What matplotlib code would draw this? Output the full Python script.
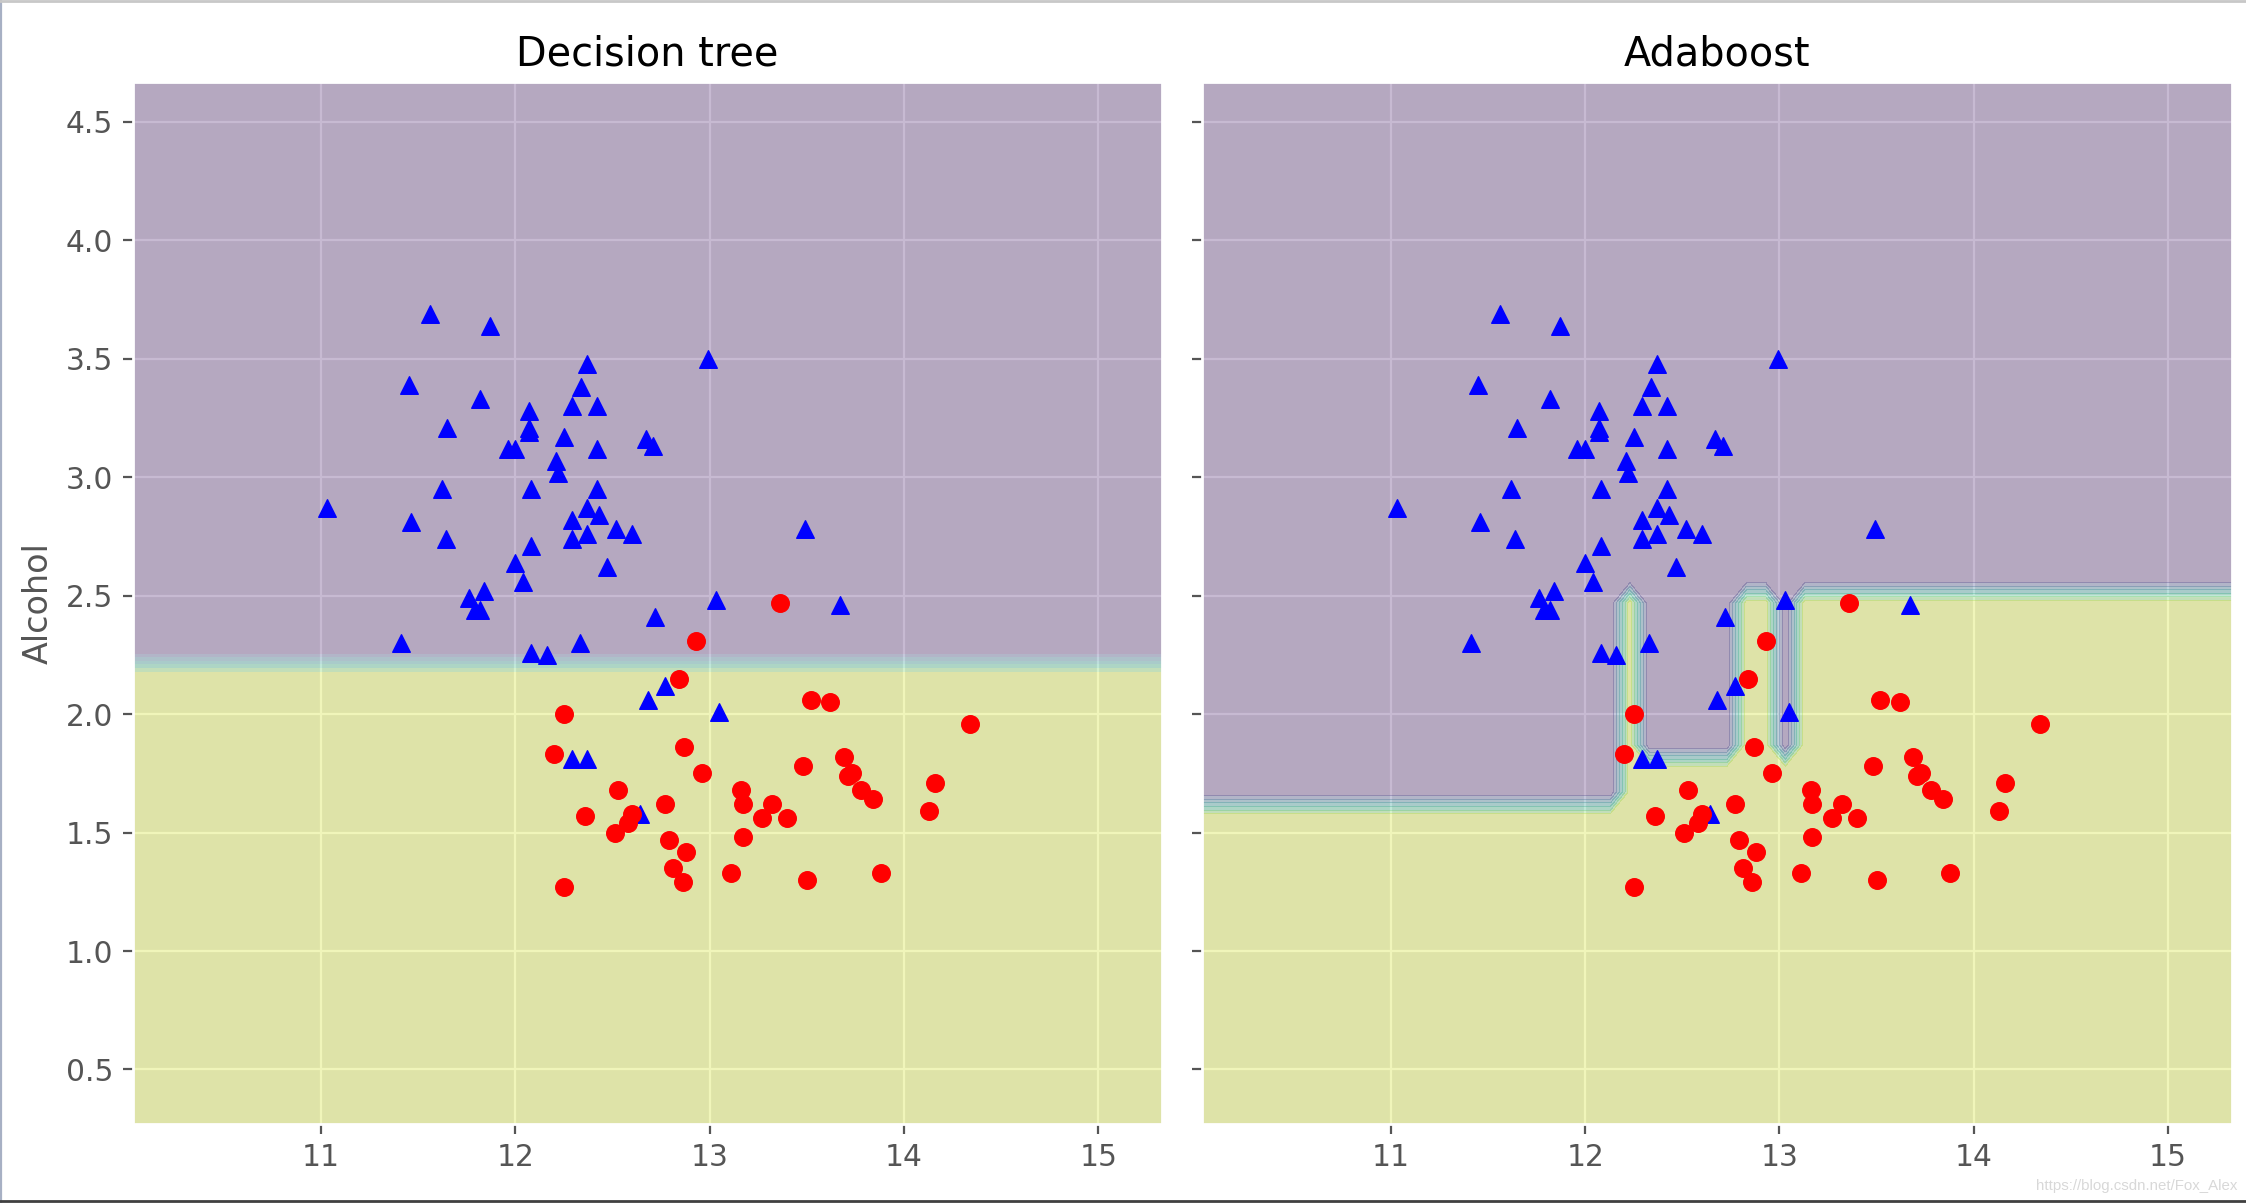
import numpy as np
import matplotlib
matplotlib.use("Agg")
import matplotlib.pyplot as plt
from matplotlib.lines import Line2D

plt.style.use("ggplot")

# class 0 -> blue triangles (x: alcohol, y: OD280/OD315)
tri_x = [11.56, 11.87, 12.37, 11.45, 12.34, 11.82, 12.29, 12.42, 12.07, 11.65,
         12.07, 12.07, 12.25, 12.67, 12.71, 11.96, 12.00, 12.42, 12.21, 12.22,
         11.62, 12.08, 12.42, 11.03, 12.37, 12.43, 12.29, 11.46, 12.52, 12.60,
         12.37, 12.29, 11.64, 12.08, 12.00, 12.47, 12.04, 11.76, 11.84, 11.79,
         11.82, 12.99, 13.49, 13.03, 13.67, 12.72, 11.41, 12.08, 12.16, 12.33,
         12.68, 12.29, 12.37, 12.64, 12.77, 13.05]
tri_y = [3.69, 3.64, 3.48, 3.39, 3.38, 3.33, 3.30, 3.30, 3.28, 3.21,
         3.21, 3.19, 3.17, 3.16, 3.13, 3.12, 3.12, 3.12, 3.07, 3.02,
         2.95, 2.95, 2.95, 2.87, 2.87, 2.84, 2.82, 2.81, 2.78, 2.76,
         2.76, 2.74, 2.74, 2.71, 2.64, 2.62, 2.56, 2.49, 2.52, 2.44,
         2.44, 3.50, 2.78, 2.48, 2.46, 2.41, 2.30, 2.26, 2.25, 2.30,
         2.06, 1.81, 1.81, 1.58, 2.12, 2.01]

# class 1 -> red circles
dot_x = [13.36, 12.93, 12.84, 12.25, 13.52, 13.62, 14.34, 12.87, 12.20, 13.69,
         13.48, 12.96, 13.71, 13.73, 14.16, 12.53, 13.16, 13.78, 13.84, 12.77,
         13.17, 13.32, 14.13, 12.36, 12.60, 12.58, 13.27, 13.40, 12.51, 13.17,
         12.79, 12.88, 12.81, 13.11, 13.88, 12.86, 13.50, 12.25]
dot_y = [2.47, 2.31, 2.15, 2.00, 2.06, 2.05, 1.96, 1.86, 1.83, 1.82,
         1.78, 1.75, 1.74, 1.75, 1.71, 1.68, 1.68, 1.68, 1.64, 1.62,
         1.62, 1.62, 1.59, 1.57, 1.58, 1.54, 1.56, 1.56, 1.50, 1.48,
         1.47, 1.42, 1.35, 1.33, 1.33, 1.29, 1.30, 1.27]

titles = ["Decision tree", "Adaboost"]

# decision regions
tree_split = 2.21
ada_x_edges = [12.18, 12.28, 12.78, 12.98, 13.08]
ada_y_split = [1.62, 2.52, 1.82, 2.52, 1.82, 2.52]

all_x = tri_x + dot_x
all_y = tri_y + dot_y
x_min, x_max = min(all_x) - 1, max(all_x) + 1
y_min, y_max = min(all_y) - 1, max(all_y) + 1
xx, yy = np.meshgrid(np.arange(x_min, x_max, 0.1),
                     np.arange(y_min, y_max, 0.1))

z_tree = (yy < tree_split).astype(float)
ada_lim = np.array(ada_y_split)[np.searchsorted(ada_x_edges, xx)]
z_ada = (yy < ada_lim).astype(float)

fig, axarr = plt.subplots(1, 2, sharex="col", sharey="row",
                          figsize=(11.23, 6.015), dpi=200)
fig.subplots_adjust(left=0.0591, right=0.9938, bottom=0.0657, top=0.9321,
                    wspace=0.039)

for ax, Z, tt in zip(axarr, [z_tree, z_ada], titles):
    ax.contourf(xx, yy, Z, alpha=0.3)
    ax.scatter(tri_x, tri_y, c="blue", marker="^", s=40)
    ax.scatter(dot_x, dot_y, c="red", marker="o", s=40)
    ax.set_title(tt, fontsize=14.3)
    ax.tick_params(labelsize=10.7)

axarr[0].set_xticks([11, 12, 13, 14, 15])
axarr[1].set_xticks([11, 12, 13, 14, 15])
axarr[0].set_ylabel("Alcohol", fontsize=12)

fig.text(0.996, 0.011, "https://blog.csdn.net/Fox_Alex", ha="right",
         va="baseline", fontsize=5.4, color="#d8d8d8",
         family="Liberation Sans")

# thin frame of the screenshot
fig.add_artist(Line2D([0.0004, 0.0004], [0, 1], transform=fig.transFigure,
                      color="#a7b0c4", lw=0.8))
fig.add_artist(Line2D([0, 1], [0.9995, 0.9995], transform=fig.transFigure,
                      color="#c8c8c8", lw=1))
fig.add_artist(Line2D([0, 1], [0.002, 0.002], transform=fig.transFigure,
                      color="#404040", lw=1))

fig.savefig("out.png", dpi=200)
